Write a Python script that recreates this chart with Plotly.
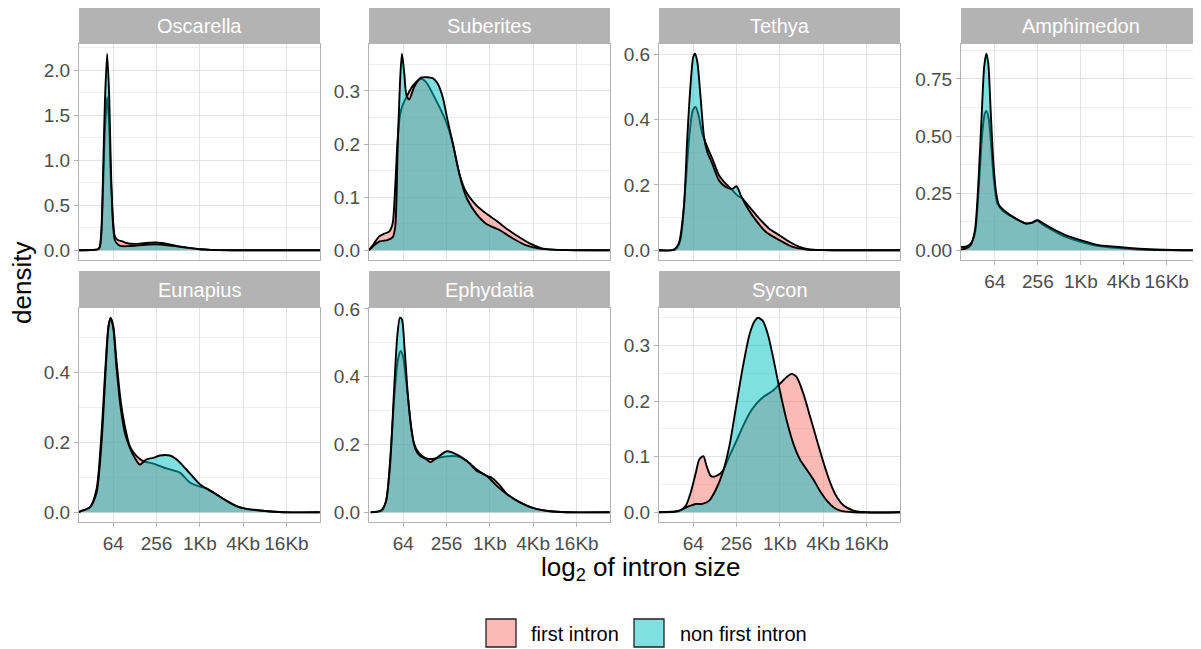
import plotly.graph_objects as go

# ---------------- data (log2 intron size vs. density) ----------------
species = ["Oscarella", "Suberites", "Tethya", "Amphimedon", "Eunapius", "Ephydatia", "Sycon"]
tick_vals = [6, 8, 10, 12, 14]
tick_text = ["64", "256", "1Kb", "4Kb", "16Kb"]
series_names = ["first intron", "non first intron"]

osc_x_first = [4.42, 5.0, 5.3, 5.385, 5.46, 5.54, 5.62, 5.72, 5.82, 5.89, 6.0, 6.08, 6.23, 6.4, 6.6, 7.0, 7.5, 8.0, 8.5, 9.0, 9.5, 10.0, 10.5, 11.5, 15.55]
osc_y_first = [0, 0.002, 0.01, 0.04, 0.2, 0.75, 1.35, 1.7, 1.35, 0.8, 0.3, 0.15, 0.11, 0.1, 0.08, 0.07, 0.08, 0.085, 0.07, 0.045, 0.025, 0.01, 0.003, 0, 0]
osc_x_non = [4.42, 5.0, 5.3, 5.385, 5.46, 5.54, 5.62, 5.72, 5.82, 5.89, 6.0, 6.08, 6.23, 6.4, 6.7, 7.0, 7.5, 8.0, 8.5, 9.0, 9.5, 10.0, 10.5, 11.5, 15.55]
osc_y_non = [0, 0.002, 0.01, 0.04, 0.25, 0.93, 1.67, 2.18, 1.67, 0.93, 0.26, 0.11, 0.06, 0.045, 0.045, 0.05, 0.06, 0.065, 0.055, 0.04, 0.025, 0.01, 0.003, 0, 0]

sub_x_first = [4.42, 4.66, 4.89, 5.12, 5.35, 5.51, 5.63, 5.74, 5.85, 5.97, 6.12, 6.43, 6.82, 7.05, 7.36, 7.67, 7.98, 8.29, 8.59, 8.9, 9.37, 9.83, 10.29, 10.76, 11.22, 11.84, 12.46, 13.23, 15.55]
sub_y_first = [0, 0.013, 0.026, 0.031, 0.035, 0.05, 0.119, 0.207, 0.254, 0.273, 0.286, 0.309, 0.323, 0.317, 0.295, 0.27, 0.242, 0.201, 0.144, 0.11, 0.085, 0.069, 0.056, 0.041, 0.028, 0.013, 0.003, 0.0005, 0]
sub_x_non = [4.42, 4.89, 5.27, 5.51, 5.63, 5.74, 5.85, 5.94, 6.05, 6.15, 6.28, 6.51, 6.82, 7.36, 7.59, 7.82, 8.05, 8.29, 8.52, 8.75, 8.98, 9.37, 9.83, 10.45, 11.07, 11.68, 12.3, 12.92, 13.85, 15.55]
sub_y_non = [0, 0.016, 0.019, 0.024, 0.044, 0.188, 0.314, 0.37, 0.333, 0.292, 0.284, 0.308, 0.325, 0.324, 0.314, 0.289, 0.245, 0.201, 0.157, 0.119, 0.094, 0.069, 0.05, 0.038, 0.022, 0.009, 0.003, 0.001, 0, 0]

tet_x_first = [4.37, 5.18, 5.41, 5.64, 5.83, 5.98, 6.11, 6.23, 6.42, 6.65, 6.88, 7.19, 7.5, 7.81, 8.04, 8.28, 8.59, 9.05, 9.51, 9.98, 10.44, 10.91, 11.37, 12.46, 15.55]
tet_y_first = [0, 0.002, 0.031, 0.194, 0.357, 0.429, 0.439, 0.418, 0.357, 0.316, 0.281, 0.23, 0.204, 0.184, 0.168, 0.158, 0.133, 0.097, 0.066, 0.046, 0.026, 0.01, 0.002, 0, 0]
tet_x_non = [4.37, 5.1, 5.33, 5.57, 5.72, 5.88, 6.0, 6.08, 6.19, 6.34, 6.5, 6.65, 6.88, 7.19, 7.5, 7.81, 8.0, 8.2, 8.43, 8.89, 9.36, 9.98, 10.6, 11.22, 12.15, 15.55]
tet_y_non = [0, 0.002, 0.02, 0.133, 0.337, 0.51, 0.592, 0.602, 0.577, 0.469, 0.347, 0.301, 0.265, 0.214, 0.194, 0.188, 0.196, 0.168, 0.138, 0.092, 0.056, 0.031, 0.01, 0.002, 0, 0]

amp_x_first = [4.37, 4.63, 4.87, 5.07, 5.25, 5.41, 5.53, 5.61, 5.72, 5.84, 5.95, 6.11, 6.34, 6.81, 7.43, 7.74, 7.97, 8.2, 8.67, 9.29, 9.99, 10.84, 12.01, 13.17, 14.73, 15.55]
amp_y_first = [0.015, 0.015, 0.029, 0.073, 0.278, 0.512, 0.599, 0.61, 0.57, 0.439, 0.307, 0.205, 0.175, 0.146, 0.117, 0.12, 0.129, 0.114, 0.088, 0.058, 0.037, 0.018, 0.007, 0.002, 0, 0]
amp_x_non = [4.37, 4.63, 4.87, 5.07, 5.22, 5.38, 5.5, 5.6, 5.69, 5.8, 5.92, 6.06, 6.19, 6.5, 6.96, 7.43, 7.74, 7.97, 8.2, 8.67, 9.29, 9.99, 10.84, 12.01, 13.17, 14.73, 15.55]
amp_y_non = [0.003, 0.007, 0.022, 0.088, 0.278, 0.585, 0.804, 0.86, 0.819, 0.614, 0.395, 0.249, 0.198, 0.168, 0.139, 0.117, 0.121, 0.132, 0.12, 0.095, 0.066, 0.044, 0.022, 0.012, 0.004, 0, 0]

eun_x_first = [4.42, 4.46, 4.92, 5.23, 5.46, 5.66, 5.78, 5.88, 6.0, 6.15, 6.34, 6.54, 6.77, 7.08, 7.38, 7.85, 8.46, 9.08, 9.54, 10.0, 10.31, 10.92, 11.54, 12.15, 12.77, 13.85, 15.54]
eun_y_first = [0, 0.002, 0.014, 0.066, 0.226, 0.433, 0.532, 0.554, 0.532, 0.433, 0.32, 0.245, 0.188, 0.16, 0.146, 0.139, 0.125, 0.113, 0.085, 0.073, 0.068, 0.045, 0.021, 0.009, 0.005, 0, 0]
eun_x_non = [4.42, 4.46, 4.92, 5.23, 5.46, 5.66, 5.78, 5.88, 6.0, 6.15, 6.34, 6.54, 6.77, 7.0, 7.23, 7.54, 7.85, 8.15, 8.62, 8.92, 9.38, 10.0, 10.62, 11.23, 11.85, 12.77, 13.85, 15.54]
eun_y_non = [0, 0.002, 0.014, 0.056, 0.198, 0.414, 0.527, 0.555, 0.527, 0.414, 0.301, 0.226, 0.184, 0.155, 0.136, 0.151, 0.155, 0.162, 0.162, 0.151, 0.122, 0.08, 0.056, 0.033, 0.014, 0.005, 0, 0]

eph_x_first = [4.5, 5.03, 5.23, 5.42, 5.6, 5.75, 5.88, 6.0, 6.15, 6.31, 6.49, 6.72, 7.03, 7.33, 7.72, 8.02, 8.48, 8.94, 9.4, 9.86, 10.09, 10.48, 10.78, 11.39, 12.01, 12.77, 13.54, 15.53]
eph_y_first = [0, 0.005, 0.039, 0.175, 0.35, 0.448, 0.476, 0.457, 0.379, 0.282, 0.204, 0.175, 0.16, 0.157, 0.162, 0.165, 0.165, 0.151, 0.126, 0.107, 0.102, 0.078, 0.054, 0.029, 0.012, 0.003, 0, 0]
eph_x_non = [4.5, 4.96, 5.19, 5.39, 5.57, 5.72, 5.85, 5.94, 6.06, 6.21, 6.38, 6.57, 6.8, 7.03, 7.26, 7.56, 8.02, 8.48, 8.94, 9.4, 9.86, 10.32, 10.78, 11.39, 12.01, 12.77, 13.54, 15.53]
eph_y_non = [0, 0.005, 0.029, 0.136, 0.35, 0.515, 0.574, 0.569, 0.486, 0.35, 0.243, 0.185, 0.165, 0.158, 0.148, 0.161, 0.18, 0.17, 0.151, 0.122, 0.107, 0.078, 0.054, 0.029, 0.012, 0.003, 0, 0]

syc_x_first = [4.42, 5.35, 5.66, 5.89, 6.12, 6.28, 6.47, 6.62, 6.82, 7.05, 7.36, 7.67, 7.98, 8.29, 8.6, 8.91, 9.22, 9.69, 10.0, 10.31, 10.54, 10.78, 11.09, 11.4, 11.71, 12.02, 12.33, 12.64, 12.95, 13.41, 14.03, 15.58]
syc_y_first = [0, 0.002, 0.012, 0.036, 0.071, 0.095, 0.101, 0.083, 0.065, 0.065, 0.074, 0.101, 0.127, 0.154, 0.178, 0.195, 0.207, 0.219, 0.231, 0.243, 0.249, 0.243, 0.213, 0.172, 0.13, 0.089, 0.053, 0.027, 0.012, 0.003, 0, 0]
syc_x_non = [4.42, 5.35, 5.81, 6.12, 6.43, 6.74, 7.05, 7.36, 7.67, 7.98, 8.29, 8.6, 8.84, 8.99, 9.22, 9.45, 9.69, 10.0, 10.31, 10.62, 10.93, 11.24, 11.55, 11.86, 12.17, 12.48, 12.79, 13.41, 15.58]
syc_y_non = [0, 0.003, 0.011, 0.015, 0.015, 0.021, 0.041, 0.071, 0.119, 0.19, 0.261, 0.32, 0.344, 0.35, 0.344, 0.32, 0.279, 0.219, 0.166, 0.124, 0.095, 0.077, 0.059, 0.038, 0.021, 0.009, 0.003, 0, 0]

panel_data = {
    "Oscarella": (osc_x_first, osc_y_first, osc_x_non, osc_y_non),
    "Suberites": (sub_x_first, sub_y_first, sub_x_non, sub_y_non),
    "Tethya": (tet_x_first, tet_y_first, tet_x_non, tet_y_non),
    "Amphimedon": (amp_x_first, amp_y_first, amp_x_non, amp_y_non),
    "Eunapius": (eun_x_first, eun_y_first, eun_x_non, eun_y_non),
    "Ephydatia": (eph_x_first, eph_y_first, eph_x_non, eph_y_non),
    "Sycon": (syc_x_first, syc_y_first, syc_x_non, syc_y_non),
}
y_dticks = [0.5, 0.1, 0.2, 0.25, 0.2, 0.2, 0.1]
y_formats = [".1f", ".1f", ".1f", ".2f", ".1f", ".1f", ".1f"]

# ---------------- layout / style ----------------
# The page body has an 8px default margin, so the figure is drawn 8px smaller
# and all page positions below are shifted by that margin.
OFF = 8
W, H = 1201 - OFF, 649 - OFF
col_px = [(79, 320), (369, 610), (659, 900), (961, 1200)]
row_px = [(44, 260), (308, 522)]
strip_px = [(8, 44), (271, 308)]
x_range = [4.42, 15.55]


def px_x(p):
    return (p - OFF) / W


def px_y(p):
    return 1 - (p - OFF) / H


FILL_FIRST = "rgba(248,118,109,0.5)"
FILL_NON = "rgba(0,191,196,0.5)"
GRID = "#E3E3E3"
MINOR = "#EEEEEE"
BORDER = "#B3B3B3"
TICKC = "#4D4D4D"
FONT = "Liberation Sans, Arial, sans-serif"
TICK_SIZE = 19
STRIP_SIZE = 20
TITLE_SIZE = 26
LEGEND_SIZE = 20

fig = go.Figure()
layout = dict(
    template="none",
    width=W, height=H, margin=dict(l=0, r=0, t=0, b=0, pad=0, autoexpand=False),
    paper_bgcolor="white", plot_bgcolor="white", showlegend=False,
    font=dict(family=FONT, color=TICKC),
)
shapes, annotations = [], []

for i, sp in enumerate(species):
    r, c = divmod(i, 4)
    n = "" if i == 0 else str(i + 1)
    xf, yf, xn, yn = panel_data[sp]
    for xs, ys, fc in ((xf, yf, FILL_FIRST), (xn, yn, FILL_NON)):
        fig.add_trace(go.Scatter(
            x=xs, y=ys, mode="lines", fill="tozeroy", fillcolor=fc,
            line=dict(color="black", width=1.9, shape="spline", smoothing=0.7),
            xaxis="x" + n, yaxis="y" + n, hoverinfo="skip"))
    ymax = max(max(yf), max(yn))
    x0p, x1p = col_px[c]
    t, b = row_px[r]
    xd = [px_x(x0p), min(1.0, px_x(x1p))]
    yd = [px_y(b), px_y(t)]
    show_x = (i >= 3)
    layout["xaxis" + n] = dict(
        domain=xd, anchor="y" + n, range=x_range, tickvals=tick_vals, ticktext=tick_text,
        showticklabels=show_x, ticks="outside" if show_x else "", ticklen=4, tickcolor=BORDER,
        tickfont=dict(size=TICK_SIZE, color=TICKC, family=FONT), automargin=False,
        showgrid=True, gridcolor=GRID, gridwidth=1, zeroline=False,
        showline=True, mirror=True, linecolor=BORDER, linewidth=1)
    d = y_dticks[i]
    layout["yaxis" + n] = dict(
        domain=yd, anchor="x" + n, range=[-0.05 * ymax, 1.05 * ymax],
        tick0=0, dtick=d, tickformat=y_formats[i], automargin=False,
        ticks="outside", ticklen=4, tickcolor=BORDER,
        tickfont=dict(size=TICK_SIZE, color=TICKC, family=FONT),
        showgrid=True, gridcolor=GRID, gridwidth=1, zeroline=False,
        minor=dict(tick0=0, dtick=d / 2, showgrid=True, gridcolor=MINOR, gridwidth=1, ticks=""),
        showline=True, mirror=True, linecolor=BORDER, linewidth=1)
    st, sb = strip_px[r]
    shapes.append(dict(type="rect", xref="paper", yref="paper",
                       x0=xd[0], x1=xd[1], y0=px_y(sb), y1=px_y(st),
                       fillcolor="#B3B3B3", line=dict(width=0), layer="above"))
    annotations.append(dict(text=sp, xref="paper", yref="paper",
                            x=(xd[0] + xd[1]) / 2, y=px_y((st + sb) / 2),
                            xanchor="center", yanchor="middle", showarrow=False,
                            font=dict(size=STRIP_SIZE, color="white", family=FONT)))

# axis titles
annotations.append(dict(text="density", xref="paper", yref="paper", x=px_x(22), y=px_y(283),
                        textangle=-90, showarrow=False, xanchor="center", yanchor="middle",
                        font=dict(size=TITLE_SIZE, color="black", family=FONT)))
annotations.append(dict(text="log<sub>2</sub> of intron size", xref="paper", yref="paper",
                        x=px_x(640), y=px_y(568), showarrow=False, xanchor="center", yanchor="middle",
                        font=dict(size=TITLE_SIZE, color="black", family=FONT)))

# legend (drawn as keys + labels)
legend_keys = [(486, 516, "#FBBAB6"), (634, 664, "#80DFE1")]
legend_text_x = [529, 678]
for (kx0, kx1, col), tx, name in zip(legend_keys, legend_text_x, series_names):
    shapes.append(dict(type="rect", xref="paper", yref="paper",
                       x0=px_x(kx0), x1=px_x(kx1), y0=px_y(647), y1=px_y(619),
                       fillcolor=col, line=dict(color="#222222", width=1.3)))
    annotations.append(dict(text=name, xref="paper", yref="paper", x=px_x(tx), y=px_y(634),
                            xanchor="left", yanchor="middle", showarrow=False,
                            font=dict(size=LEGEND_SIZE, color="black", family=FONT)))

layout["shapes"] = shapes
layout["annotations"] = annotations
fig.update_layout(**layout)
fig.write_html("out.html")
